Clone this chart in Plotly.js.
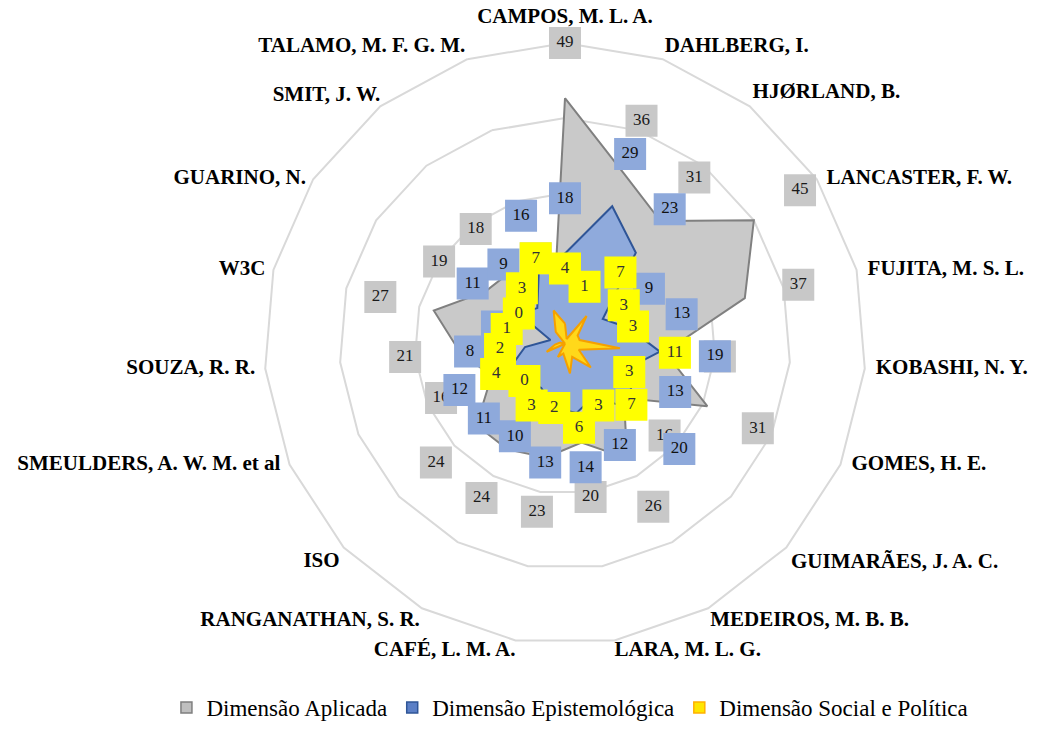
<!DOCTYPE html>
<html>
<head>
<meta charset="utf-8">
<script src="https://cdn.plot.ly/plotly-3.0.1.min.js"></script>
<style>
html,body{margin:0;padding:0;background:#ffffff;}
#chart{width:1041px;height:729px;}
</style>
</head>
<body>
<div id="chart"></div>
<script>
// ---- data ----
const categories = [
  'CAMPOS, M. L. A.', 'DAHLBERG, I.', 'HJØRLAND, B.', 'LANCASTER, F. W.',
  'FUJITA, M. S. L.', 'KOBASHI, N. Y.', 'GOMES, H. E.', 'GUIMARÃES, J. A. C.',
  'MEDEIROS, M. B. B.', 'LARA, M. L. G.', 'CAFÉ, L. M. A.', 'RANGANATHAN, S. R.',
  'ISO', 'SMEULDERS, A. W. M. et al', 'SOUZA, R. R.', 'W3C', 'GUARINO, N.',
  'SMIT, J. W.', 'TALAMO, M. F. G. M.'
];
const seriesNames = ['Dimensão Aplicada', 'Dimensão Epistemológica', 'Dimensão Social e Política'];
const aplicada       = [49, 36, 31, 45, 37, 20, 31, 16, 26, 20, 23, 24, 24, 16, 21, 27, 19, 18, 7];
const epistemologica = [18, 29, 23,  9, 13, 19, 13, 20, 12, 14, 13, 10, 11, 12,  8,  3, 11,  9, 16];
const social         = [ 4,  1,  7,  3,  3, 11,  3,  7,  3,  6,  2,  3,  0,  4,  2,  1,  0,  3,  7];
const radialTicks = [15, 30, 45];
const radialMax = 60;

// ---- styling ----
const LABEL_OFFSET = 11;   // radial distance (axis units) between a point and its value box
const serif = 'Liberation Serif';
const styles = [
  {fill: '#C9C9C9', line: '#808080', box: '#C8C8C8', text: '#1a1a1a', legFill: '#BFBFBF', legLine: '#7F7F7F'},
  {fill: '#8FAADC', line: '#2F5597', box: '#8EA9DB', text: '#111111', legFill: '#5B7FC6', legLine: '#2F5597'},
  {fill: '#FFD81A', line: '#F5A000', box: '#FFFF00', text: '#333333', legFill: '#FFE600', legLine: '#FFB000'}
];
// placement of each category name around the outer ring (style only)
const catTextPos = [
  'top center', 'top right', 'top right', 'middle right', 'middle right',
  'middle right', 'middle right', 'bottom right', 'bottom right', 'bottom right',
  'bottom left', 'bottom left', 'bottom left', 'middle left', 'middle left',
  'middle left', 'middle left', 'top left', 'top left'
];
const catGap = [22, 1.6, 3, 14, 16, 16, 16, 6, 1.6, 0, 0, 1.6, 5, 13, 14.5, 11, 10, 0, 1.6];

const allSeries = [aplicada, epistemologica, social];
const close = arr => arr.concat([arr[0]]);
const traces = [];

// legend entries (single hidden point at the centre, drawn underneath everything)
allSeries.forEach((vals, i) => {
  traces.push({
    type: 'scatterpolar',
    r: [0],
    theta: [categories[0]],
    mode: 'markers',
    marker: {symbol: 'square', size: 11, color: styles[i].legFill, line: {color: styles[i].legLine, width: 1.5}},
    name: seriesNames[i],
    showlegend: true,
    hoverinfo: 'skip'
  });
});

// filled areas
allSeries.forEach((vals, i) => {
  traces.push({
    type: 'scatterpolar',
    r: close(vals),
    theta: close(categories),
    mode: 'lines',
    fill: 'toself',
    fillcolor: styles[i].fill,
    line: {color: styles[i].line, width: 2},
    name: seriesNames[i],
    showlegend: false,
    hoverinfo: 'skip'
  });
});

// value boxes
allSeries.forEach((vals, i) => {
  traces.push({
    type: 'scatterpolar',
    r: vals.map(v => v + LABEL_OFFSET),
    theta: categories,
    mode: 'markers+text',
    marker: {symbol: 'square', size: 32, color: styles[i].box, line: {width: 0}},
    text: vals.map(String),
    textposition: 'middle center',
    textfont: {family: serif, size: 17, color: styles[i].text},
    cliponaxis: false,
    showlegend: false,
    hoverinfo: 'skip'
  });
});

// category names around the outer ring
traces.push({
  type: 'scatterpolar',
  r: categories.map(() => radialMax),
  theta: categories,
  mode: 'markers+text',
  marker: {size: catGap, opacity: 0, color: '#ffffff'},
  text: categories,
  textposition: catTextPos,
  textfont: {family: serif, size: 21, color: '#000000', weight: 'bold'},
  cliponaxis: false,
  showlegend: false,
  hoverinfo: 'skip'
});

const layout = {
  width: 1041,
  height: 729,
  margin: {l: 0, r: 0, t: 0, b: 0},
  font: {family: serif, size: 23, color: '#000000'},
  paper_bgcolor: '#ffffff',
  plot_bgcolor: '#ffffff',
  showlegend: true,
  legend: {
    orientation: 'h',
    x: 0.5475, xanchor: 'center',
    y: 0.016, yanchor: 'middle',
    font: {family: serif, size: 23, color: '#000000'},
    itemwidth: 30,
    bgcolor: 'rgba(0,0,0,0)'
  },
  polar: {
    domain: {x: [0.2498, 0.8357], y: [0.1036, 0.9403]},
    bgcolor: '#ffffff',
    gridshape: 'linear',
    radialaxis: {
      range: [0, radialMax],
      tickvals: radialTicks,
      showticklabels: false,
      ticks: '',
      showline: false,
      showgrid: true,
      gridcolor: '#D9D9D9',
      gridwidth: 2,
      layer: 'below traces'
    },
    angularaxis: {
      type: 'category',
      categoryorder: 'array',
      categoryarray: categories,
      direction: 'clockwise',
      rotation: 90,
      showgrid: false,
      showline: true,
      linecolor: '#D9D9D9',
      linewidth: 2,
      ticks: '',
      showticklabels: false,
      layer: 'below traces'
    }
  }
};

Plotly.newPlot('chart', traces, layout, {displayModeBar: false, staticPlot: true});
</script>
</body>
</html>
